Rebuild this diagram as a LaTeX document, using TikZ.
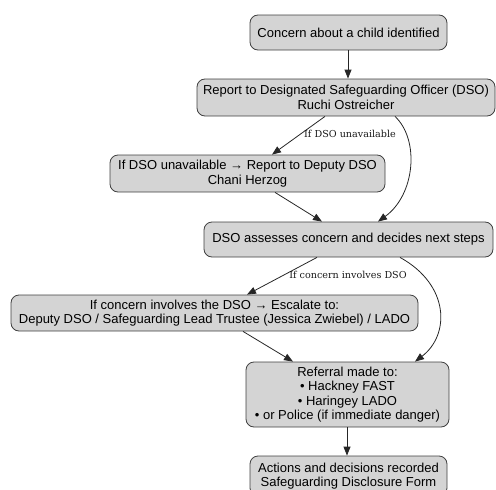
\documentclass[tikz,border=0pt]{standalone}
\usepackage{fontspec}
\setmainfont{Liberation Sans}
\newfontfamily\lblfont{DejaVu Serif}
\usetikzlibrary{arrows.meta}
\tikzset{
  box/.style={draw=black!75, line width=0.8pt, fill=black!17, rounded corners=8pt,
    inner sep=0pt, align=center, font=\fontsize{13}{14.5}\selectfont},
  conn/.style={draw=black!85, line width=0.8pt, -{Triangle[length=9pt,width=7pt]}},
  elabel/.style={font=\lblfont\fontsize{9.6}{11}\selectfont, text=black!90, inner sep=0pt}
}
\begin{document}
\begin{tikzpicture}[x=1pt,y=-1pt]
\useasboundingbox (0,0) rectangle (496,490);
\node[box, minimum width=197pt, minimum height=35pt] (n1) at (348.5,32.5) {Concern about a child identified};
\node[box, minimum width=298pt, minimum height=37pt] (n2) at (346,97.5) {Report to Designated Safeguarding Officer (DSO)\\Ruchi Ostreicher};
\node[box, minimum width=275pt, minimum height=37pt] (n3) at (247.5,173.5) {If DSO unavailable → Report to Deputy DSO\\Chani Herzog};
\node[box, minimum width=289pt, minimum height=35pt] (n4) at (348.5,239.5) {DSO assesses concern and decides next steps};
\node[box, minimum width=407pt, minimum height=36pt] (n5) at (214.5,313) {If concern involves the DSO → Escalate to:\\Deputy DSO / Safeguarding Lead Trustee (Jessica Zwiebel) / LADO};
\node[box, minimum width=203pt, minimum height=65pt] (n6) at (347.5,394.5) {Referral made to:\\• Hackney FAST\\• Haringey LADO\\• or Police (if immediate danger)};
\node[box, minimum width=197pt, minimum height=40pt] (n7) at (348.5,476) {Actions and decisions recorded\\Safeguarding Disclosure Form};

\draw[conn] ([xshift=-0.5pt]n1.south) -- ([xshift=2pt]n2.north);
\draw[conn] ([xshift=-21pt]n2.south) -- ([xshift=24.5pt]n3.north);
\node[elabel] (l1) at (350,134) {If DSO unavailable};
\draw[conn] ([xshift=49pt]n2.south) .. controls (420,140) and (415,195) .. ([xshift=29.5pt]n4.north);
\draw[conn] ([xshift=27.5pt]n3.south) -- ([xshift=-26.5pt]n4.north);
\draw[conn] ([xshift=-31.5pt]n4.south) -- ([xshift=32.5pt]n5.north);
\node[elabel] (l2) at (348,275) {If concern involves DSO};
\draw[conn] ([xshift=51.5pt]n4.south) .. controls (450,285) and (450,335) .. ([xshift=67.5pt]n6.north);
\draw[conn] ([xshift=28.5pt]n5.south) -- ([xshift=-54.5pt]n6.north);
\draw[conn] ([xshift=-0.5pt]n6.south) -- ([xshift=-1.5pt]n7.north);
\end{tikzpicture}
\end{document}
